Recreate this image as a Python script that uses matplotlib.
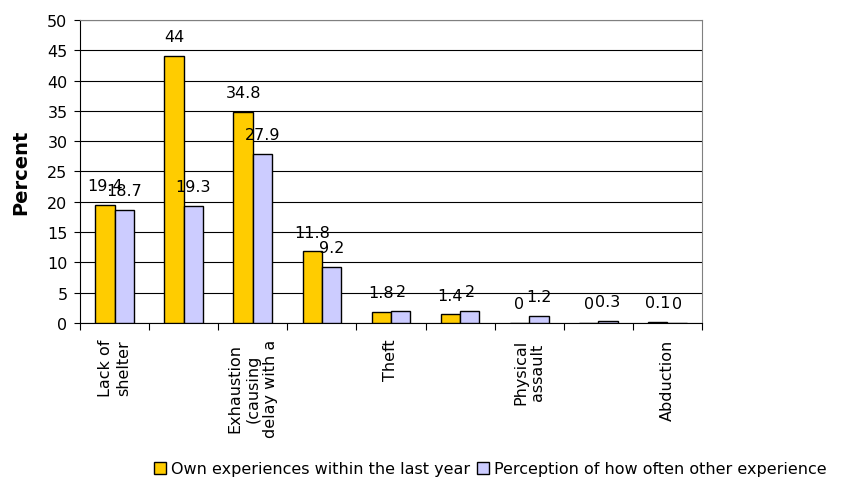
import numpy as np
import matplotlib
matplotlib.use("Agg")
import matplotlib.pyplot as plt

categories = ["Lack of\nshelter", "", "Exhaustion\n(causing\ndelay with a", "", "Theft",
              "", "Physical\nassault", "", "Abduction"]
own = [19.4, 44, 34.8, 11.8, 1.8, 1.4, 0, 0, 0.1]
perception = [18.7, 19.3, 27.9, 9.2, 2, 2, 1.2, 0.3, 0]
series_names = ["Own experiences within the last year",
                "Perception of how often other experience"]

plt.rcParams['font.family'] = ['DejaVu Sans']

fig = plt.figure(figsize=(8.41, 4.85), dpi=100)
ax = fig.add_axes([0.0951, 0.332, 0.7396, 0.6247])

x = np.arange(len(categories))
w = 0.28
b1 = ax.bar(x - w / 2, own, w, color="#FFCC00", edgecolor="black", linewidth=1, label=series_names[0], zorder=3)
b2 = ax.bar(x + w / 2, perception, w, color="#CCCCFF", edgecolor="black", linewidth=1, label=series_names[1], zorder=3)

for bars, vals in ((b1, own), (b2, perception)):
    for r, v in zip(bars, vals):
        ax.annotate(f"{v:g}", (r.get_x() + r.get_width() / 2, v), xytext=(0, 14),
                    textcoords="offset points", ha="center", va="center", fontsize=11.5, zorder=4)

ax.set_xlim(-0.5, len(categories) - 0.5)
ax.set_ylim(0, 50)
ax.set_yticks(np.arange(0, 51, 5))
ax.yaxis.grid(True, color="black", linewidth=0.8, zorder=0)
ax.tick_params(axis="y", labelsize=11.5, length=4, direction="out", pad=5)

ax.set_xticks(np.arange(-0.5, len(categories), 1))
ax.set_xticklabels([])
ax.tick_params(axis="x", which="major", length=5, direction="out")
ax.set_xticks(x, categories, minor=True)
ax.tick_params(axis="x", which="minor", length=0, pad=11, labelsize=11.5, labelrotation=90)
for t in ax.get_xticklabels(minor=True):
    t.set_va("top")
    t.set_multialignment("center")

for s in ["top", "right"]:
    ax.spines[s].set_color("#808080")
ax.spines["left"].set_color("black")
ax.spines["bottom"].set_color("black")

ax.set_ylabel("Percent", fontsize=14, fontweight="bold", labelpad=12)

fig.legend(loc="center", bbox_to_anchor=(0.583, 0.031), ncol=2, frameon=False, fontsize=11.5,
           handlelength=0.75, handleheight=0.75, handletextpad=0.3, columnspacing=0.4)

fig.savefig("out.png", dpi=100)
